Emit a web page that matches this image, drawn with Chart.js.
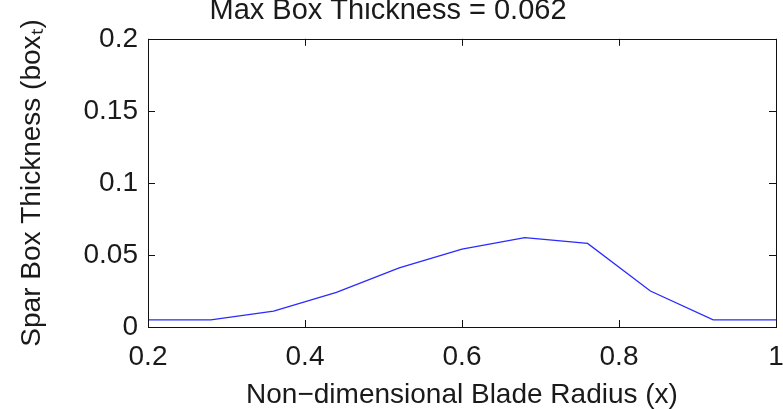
<!DOCTYPE html>
<html lang="en">
<head>
    <meta charset="UTF-8">
    <title>Spar Box Thickness</title>
    <script src="https://cdn.jsdelivr.net/npm/chart.js"></script>
    <style>
        html, body { margin: 0; padding: 0; background: #fff; }
        #wrap { width: 783px; height: 409px; }
    </style>
</head>
<body>
    <div id="wrap"><canvas id="boxCanvas" width="783" height="409"></canvas></div>

    <script>
        // Blade stations and spar box thickness at each one
        const radius = [0.2, 0.28, 0.36, 0.44, 0.52, 0.60, 0.68, 0.76, 0.84, 0.92, 1.0];
        const thickness = [0.005, 0.005, 0.011, 0.024, 0.041, 0.054, 0.062, 0.058, 0.025, 0.005, 0.005];

        // Axis ticks
        const xTicks = [0.2, 0.4, 0.6, 0.8, 1];
        const yTicks = [0, 0.05, 0.1, 0.15, 0.2];

        const maxThickness = Math.max(...thickness);

        const FONT = "'Liberation Sans', Arial, Helvetica, sans-serif";
        const TEXT = '#1a1a1a';

        // Box around the axes with short ticks pointing inward on all four sides
        const matlabBox = {
            id: 'matlabBox',
            afterDatasetsDraw(chart) {
                const { ctx, chartArea: a, scales } = chart;
                const len = 7;
                ctx.save();
                ctx.strokeStyle = '#111';
                ctx.lineWidth = 1;
                ctx.beginPath();
                scales.x.ticks.forEach(t => {
                    const px = Math.round(scales.x.getPixelForValue(t.value)) + 0.5;
                    ctx.moveTo(px, a.bottom); ctx.lineTo(px, a.bottom - len);
                    ctx.moveTo(px, a.top); ctx.lineTo(px, a.top + len);
                });
                scales.y.ticks.forEach(t => {
                    const py = Math.round(scales.y.getPixelForValue(t.value)) + 0.5;
                    ctx.moveTo(a.left, py); ctx.lineTo(a.left + len, py);
                    ctx.moveTo(a.right, py); ctx.lineTo(a.right - len, py);
                });
                ctx.stroke();
                ctx.strokeRect(Math.round(a.left) + 0.5, Math.round(a.top) + 0.5,
                    Math.round(a.right - a.left), Math.round(a.bottom - a.top));
                ctx.restore();
            }
        };

        new Chart(document.getElementById('boxCanvas').getContext('2d'), {
            type: 'line',
            data: {
                datasets: [{
                    data: radius.map((r, i) => ({ x: r, y: thickness[i] })),
                    borderColor: '#2a2aff',
                    borderWidth: 1.3,
                    pointRadius: 0,
                    tension: 0,
                    clip: false
                }]
            },
            options: {
                responsive: false,
                animation: false,
                layout: { padding: { left: 0, right: 7, top: 0, bottom: 0 } },
                plugins: {
                    legend: { display: false },
                    tooltip: { enabled: false },
                    title: {
                        display: true,
                        text: 'Max Box Thickness = ' + maxThickness.toFixed(3),
                        color: TEXT,
                        font: { family: FONT, size: 29, weight: 'normal' },
                        padding: { top: -6, bottom: 10 }
                    }
                },
                scales: {
                    x: {
                        type: 'linear',
                        min: 0.2,
                        max: 1,
                        afterBuildTicks: s => { s.ticks = xTicks.map(v => ({ value: v })); },
                        afterFit: s => { s.height = 82; s.paddingLeft = 0; s.paddingRight = 0; },
                        grid: { display: false, drawTicks: false },
                        border: { display: false },
                        ticks: {
                            color: TEXT,
                            padding: 13,
                            maxRotation: 0,
                            font: { family: FONT, size: 28 },
                            callback: v => String(v)
                        },
                        title: {
                            display: true,
                            text: 'Non\u2212dimensional Blade Radius (x)',
                            color: TEXT,
                            font: { family: FONT, size: 28 },
                            padding: { top: 0, bottom: -3 }
                        }
                    },
                    y: {
                        type: 'linear',
                        min: 0,
                        max: 0.2,
                        afterBuildTicks: s => { s.ticks = yTicks.map(v => ({ value: v })); },
                        afterFit: s => { s.width = 148; },
                        grid: { display: false, drawTicks: false },
                        border: { display: false },
                        ticks: {
                            color: TEXT,
                            padding: 10,
                            font: { family: FONT, size: 28 },
                            callback: v => String(v)
                        },
                        title: {
                            display: true,
                            text: 'Spar Box Thickness (box\u209C)',
                            color: TEXT,
                            font: { family: FONT, size: 28 },
                            padding: { top: 15, bottom: 0 }
                        }
                    }
                }
            },
            plugins: [matlabBox]
        });
    </script>
</body>
</html>
